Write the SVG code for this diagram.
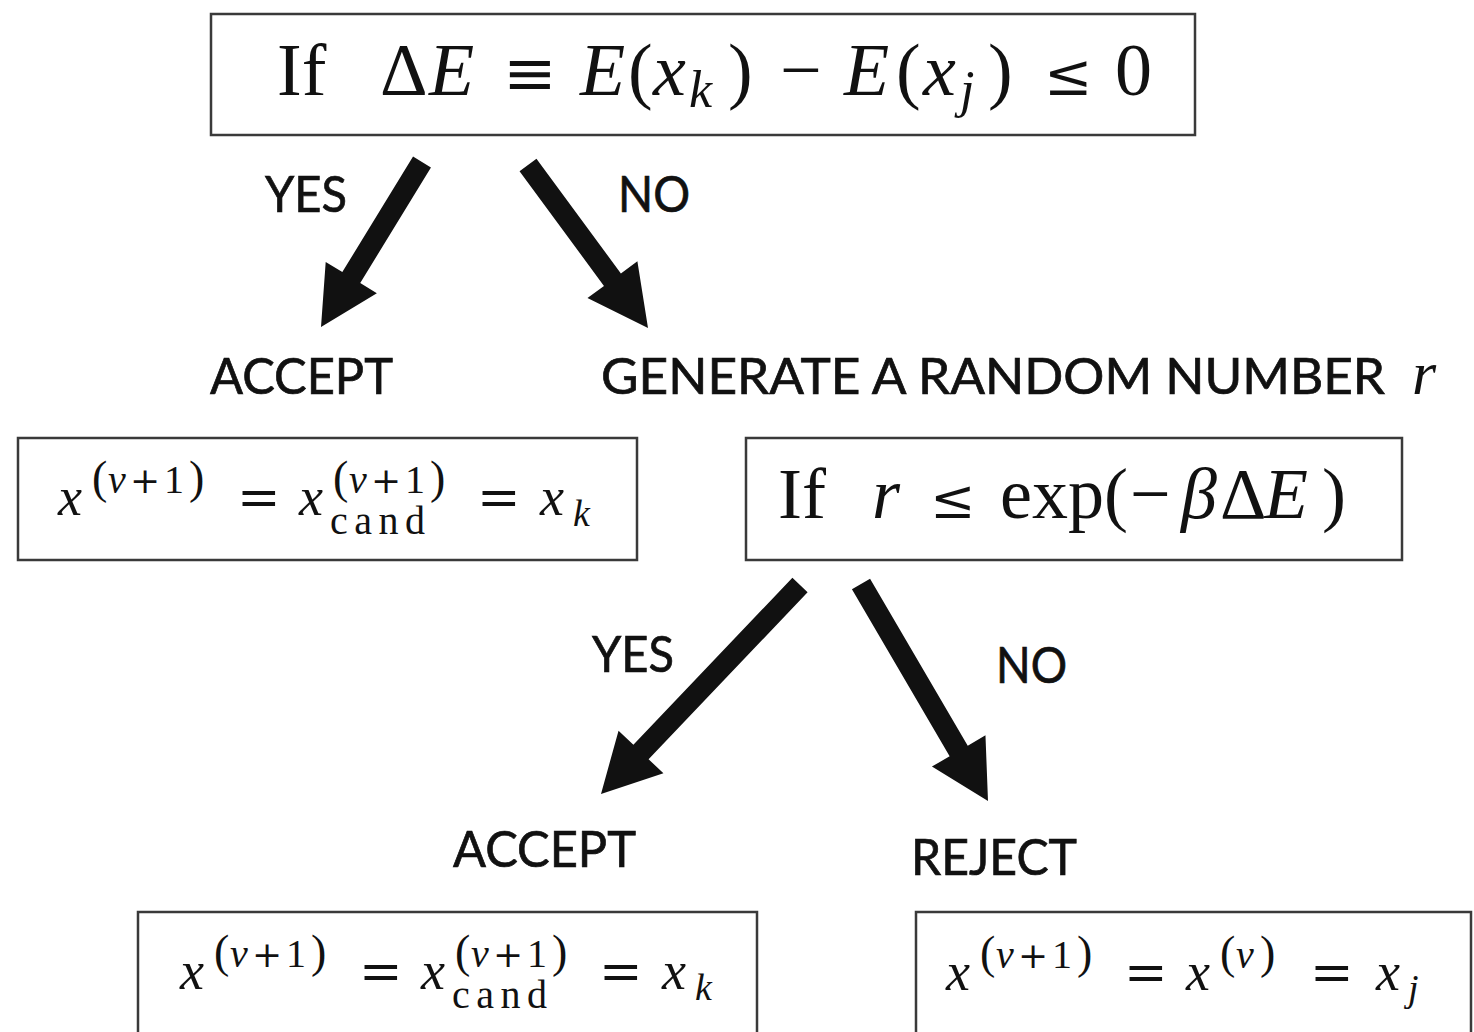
<svg xmlns="http://www.w3.org/2000/svg" width="1474" height="1032" viewBox="0 0 1474 1032">
<style>
.bg{fill:#ffffff}
.box{fill:#ffffff;stroke:#3a3a3a;stroke-width:2.5}
.arrow{fill:#111111;stroke:none}
.lbl{font-family:Lato,"Open Sans","Liberation Sans",sans-serif;font-size:50px;fill:#111111;stroke:#111111;stroke-width:0.7}
.m{font-family:"Liberation Serif","Times New Roman",serif;fill:#111111}
.i{font-style:italic}
.op{font-family:"DejaVu Serif","Liberation Serif",serif}
</style>
<rect class="bg" x="0" y="0" width="1474" height="1032"/>

<g id="node-condition1">
<rect class="box" x="211" y="14" width="984" height="121"/>
<text class="m" font-size="74" y="95"><tspan x="277">If</tspan><tspan x="380">Δ</tspan><tspan x="429" class="i">E</tspan><tspan x="503" class="op" font-size="64">≡</tspan><tspan x="580" class="i">E</tspan><tspan x="628">(</tspan><tspan x="653" class="i">x</tspan><tspan x="689" y="107" class="i" font-size="52">k</tspan><tspan x="728" y="95">)</tspan><tspan x="780">−</tspan><tspan x="844" class="i">E</tspan><tspan x="896">(</tspan><tspan x="923" class="i">x</tspan><tspan x="960" y="107" class="i" font-size="52">j</tspan><tspan x="988" y="95">)</tspan><tspan x="1044" class="op" font-size="58">≤</tspan><tspan x="1115">0</tspan></text>
</g>

<g id="node-accept1-label">
<text class="lbl" x="210" y="394" textLength="183" lengthAdjust="spacingAndGlyphs">ACCEPT</text>
</g>

<g id="node-generate">
<text class="lbl" x="601" y="394" textLength="784" lengthAdjust="spacingAndGlyphs">GENERATE A RANDOM NUMBER</text>
<text class="m i" x="1412" y="394" font-size="62">r</text>
</g>

<g id="node-accept1">
<rect class="box" x="18" y="438" width="619" height="122"/>
<text class="m" font-size="54" y="515"><tspan x="58" class="i">x</tspan><tspan font-size="46" y="493" x="92">(</tspan><tspan font-size="40" x="108" class="i">ν</tspan><tspan font-size="36" x="130" class="op">+</tspan><tspan font-size="40" x="164">1</tspan><tspan font-size="46" x="189">)</tspan><tspan x="237" y="515" class="op" font-size="52">=</tspan><tspan x="299" class="i">x</tspan><tspan font-size="46" y="493" x="333">(</tspan><tspan font-size="40" x="349" class="i">ν</tspan><tspan font-size="36" x="371" class="op">+</tspan><tspan font-size="40" x="405">1</tspan><tspan font-size="46" x="430">)</tspan><tspan x="477" y="515" class="op" font-size="52">=</tspan><tspan x="540" class="i">x</tspan><tspan x="573" y="526" class="i" font-size="38">k</tspan></text>
<text class="m" x="330" y="534" font-size="40" textLength="95" lengthAdjust="spacing">cand</text>
</g>

<g id="node-condition2">
<rect class="box" x="746" y="438" width="656" height="122"/>
<text class="m" font-size="72" y="518"><tspan x="778">If</tspan><tspan x="872" class="i">r</tspan><tspan x="930" class="op" font-size="54">≤</tspan><tspan x="1000">exp</tspan><tspan x="1104">(</tspan><tspan x="1130">−</tspan><tspan x="1181" class="i">β</tspan><tspan x="1220">Δ</tspan><tspan x="1264" class="i">E</tspan><tspan x="1322">)</tspan></text>
</g>

<g id="edge-labels">
<text class="lbl" x="265" y="212" textLength="82" lengthAdjust="spacingAndGlyphs">YES</text>
<text class="lbl" x="618" y="212" textLength="72" lengthAdjust="spacingAndGlyphs">NO</text>
<text class="lbl" x="592" y="672" textLength="82" lengthAdjust="spacingAndGlyphs">YES</text>
<text class="lbl" x="996" y="683" textLength="71" lengthAdjust="spacingAndGlyphs">NO</text>
</g>

<g id="node-accept2-label">
<text class="lbl" x="453" y="867" textLength="183" lengthAdjust="spacingAndGlyphs">ACCEPT</text>
</g>

<g id="node-reject-label">
<text class="lbl" x="911" y="875" textLength="166" lengthAdjust="spacingAndGlyphs">REJECT</text>
</g>

<g id="node-accept2">
<rect class="box" x="138" y="912" width="619" height="140"/>
<g transform="translate(122,474)">
<text class="m" font-size="54" y="515"><tspan x="58" class="i">x</tspan><tspan font-size="46" y="493" x="92">(</tspan><tspan font-size="40" x="108" class="i">ν</tspan><tspan font-size="36" x="130" class="op">+</tspan><tspan font-size="40" x="164">1</tspan><tspan font-size="46" x="189">)</tspan><tspan x="237" y="515" class="op" font-size="52">=</tspan><tspan x="299" class="i">x</tspan><tspan font-size="46" y="493" x="333">(</tspan><tspan font-size="40" x="349" class="i">ν</tspan><tspan font-size="36" x="371" class="op">+</tspan><tspan font-size="40" x="405">1</tspan><tspan font-size="46" x="430">)</tspan><tspan x="477" y="515" class="op" font-size="52">=</tspan><tspan x="540" class="i">x</tspan><tspan x="573" y="526" class="i" font-size="38">k</tspan></text>
<text class="m" x="330" y="534" font-size="40" textLength="95" lengthAdjust="spacing">cand</text>
</g>
</g>

<g id="node-reject">
<rect class="box" x="916" y="912" width="555" height="140"/>
<text class="m" font-size="54" y="990"><tspan x="946" class="i">x</tspan><tspan font-size="46" y="968" x="980">(</tspan><tspan font-size="40" x="996" class="i">ν</tspan><tspan font-size="36" x="1018" class="op">+</tspan><tspan font-size="40" x="1052">1</tspan><tspan font-size="46" x="1077">)</tspan><tspan x="1124" y="990" class="op" font-size="52">=</tspan><tspan x="1186" class="i">x</tspan><tspan font-size="46" y="968" x="1220">(</tspan><tspan font-size="40" x="1236" class="i">ν</tspan><tspan font-size="46" x="1260">)</tspan><tspan x="1310" y="990" class="op" font-size="52">=</tspan><tspan x="1376" class="i">x</tspan><tspan x="1408" y="1001" class="i" font-size="38">j</tspan></text>
</g>

<g id="connectors">
<polygon class="arrow" points="413.05,156.52 342.33,272.06 325.70,261.88 321,327 376.86,293.20 360.23,283.02 430.95,167.48"/>
<polygon class="arrow" points="519.54,171.23 603.97,285.91 587.47,298.06 648,328 637.39,261.30 620.89,273.45 536.46,158.77"/>
<polygon class="arrow" points="792.40,577.76 633.39,744.76 618.54,730.63 601,794 663.44,773.37 648.59,759.24 807.60,592.24"/>
<polygon class="arrow" points="851.94,589.30 949.64,756.24 931.94,766.60 988,801 985.46,735.28 967.76,745.64 870.06,578.70"/>
</g>
</svg>
